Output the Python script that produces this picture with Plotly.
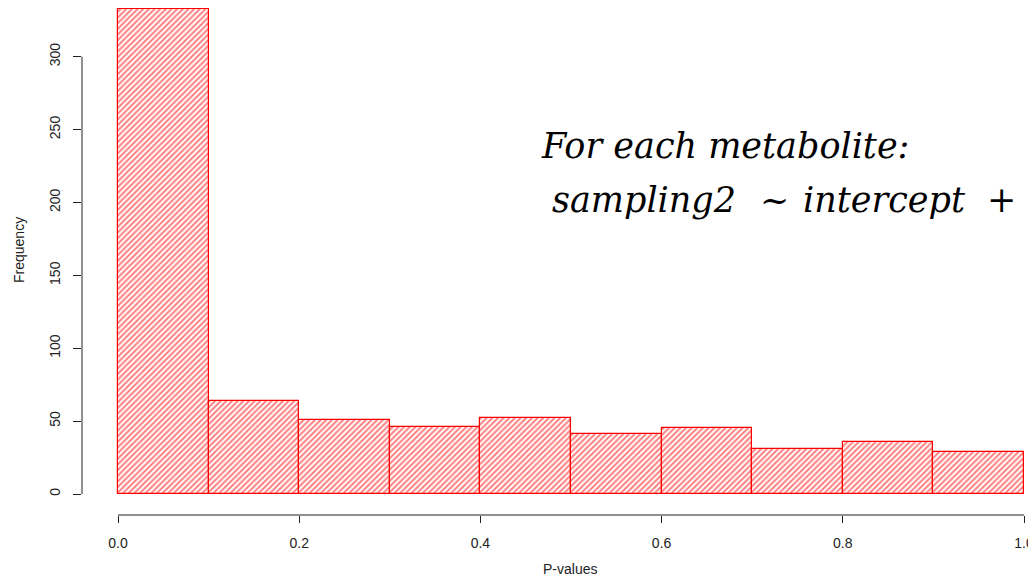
import plotly.graph_objects as go

# Data
bin_starts = [0.0, 0.1, 0.2, 0.3, 0.4, 0.5, 0.6, 0.7, 0.8, 0.9]
bin_width = 0.1
counts = [333, 64, 51, 46, 52, 41, 45, 31, 36, 29]

x_ticks = [0.0, 0.2, 0.4, 0.6, 0.8, 1.0]
x_tick_labels = ["0.0", "0.2", "0.4", "0.6", "0.8", "1.0"]
y_ticks = [0, 50, 100, 150, 200, 250, 300]
y_tick_labels = ["0", "50", "100", "150", "200", "250", "300"]

x_title = "P-values"
y_title = "Frequency"
note_line1 = "For each metabolite:"
note_line2_parts = ["sampling2", "~", "intercept", "+"]

centers = [s + bin_width / 2 for s in bin_starts]

# page offset (html body margin) is 8px; work in page pixels and convert
OFF = 8
PLOT_L, PLOT_R = 82, 1036          # page px of plot area
PLOT_T, PLOT_B = 8, 515
X0_PX, X1_PX = 118, 1024           # page px of x = 0 and x = 1
Y0_PX, PX_PER_UNIT = 494, 1.46     # page px of y = 0, px per count


def px_x(p):
    return (p - PLOT_L) / (PLOT_R - PLOT_L)


def px_y(p):
    return 1 - (p - PLOT_T) / (PLOT_B - PLOT_T)


fig = go.Figure()
fig.add_trace(go.Bar(
    x=centers, y=counts, width=[bin_width] * len(counts),
    marker=dict(
        color="white",
        line=dict(color="red", width=1.2),
        pattern=dict(shape="/", fgcolor="red", bgcolor="white", size=4, solidity=0.5),
    ),
    showlegend=False,
))

tick_font = dict(family="Liberation Sans, Arial, sans-serif", size=14, color="#222222")
xspan = X1_PX - X0_PX

fig.update_layout(
    width=1036 - OFF, height=587 - OFF,
    margin=dict(l=PLOT_L - OFF, r=0, t=PLOT_T - OFF, b=(587 - OFF) - (PLOT_B - OFF)),
    paper_bgcolor="white", plot_bgcolor="white",
    bargap=0,
    xaxis=dict(
        range=[-(X0_PX - PLOT_L) / xspan, (PLOT_R - X0_PX) / xspan],
        tickvals=x_ticks, ticktext=x_tick_labels,
        ticks="outside", ticklen=7, tickcolor="#222222", tickwidth=1,
        showline=False, showgrid=False, zeroline=False,
        tickfont=tick_font, ticklabelstandoff=8,
    ),
    yaxis=dict(
        range=[-(PLOT_B - Y0_PX) / PX_PER_UNIT, 333.4],
        tickvals=y_ticks, ticktext=y_tick_labels,
        ticks="outside", ticklen=8, tickcolor="#222222", tickwidth=1,
        showline=False, showgrid=False, zeroline=False,
        tickangle=-90, tickfont=tick_font, ticklabelstandoff=7,
    ),
    font=dict(family="Liberation Sans, Arial, sans-serif"),
)

# R-style detached axis lines spanning only the tick range
fig.add_shape(type="line", xref="x", yref="paper",
              x0=min(x_ticks), x1=max(x_ticks), y0=0, y1=0,
              line=dict(color="#222222", width=1))
fig.add_shape(type="line", xref="paper", yref="y",
              x0=0, x1=0, y0=min(y_ticks), y1=max(y_ticks),
              line=dict(color="#222222", width=1))

# Axis titles
title_font = dict(family="Liberation Sans, Arial, sans-serif", size=14, color="#222222")
fig.add_annotation(text=x_title, xref="paper", yref="paper",
                   x=px_x(570), y=px_y(569), showarrow=False,
                   font=title_font, xanchor="center", yanchor="middle")
fig.add_annotation(text=y_title, xref="paper", yref="paper",
                   x=px_x(19), y=px_y(250), showarrow=False, textangle=-90,
                   font=title_font, xanchor="center", yanchor="middle")

# Overlaid text
serif = dict(family="DejaVu Serif, Liberation Serif, serif", size=35, color="black")
fig.add_annotation(text="<i>" + note_line1 + "</i>", xref="paper", yref="paper",
                   x=px_x(539), y=px_y(146), showarrow=False,
                   xanchor="left", yanchor="middle", font=serif)
part_left_px = [550, 758, 801, 985]
for txt, lp in zip(note_line2_parts, part_left_px):
    fig.add_annotation(text="<i>" + txt + "</i>" if txt not in ("~", "+") else txt,
                       xref="paper", yref="paper",
                       x=px_x(lp), y=px_y(200), showarrow=False,
                       xanchor="left", yanchor="middle", font=serif)

fig.write_html("out.html")
